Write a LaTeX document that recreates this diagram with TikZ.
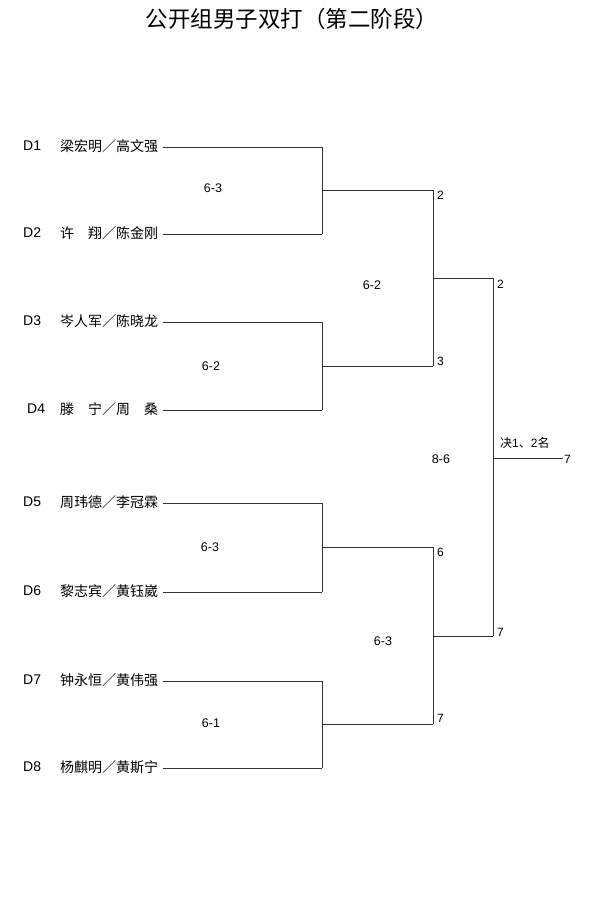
\documentclass[tikz,border=0pt]{standalone}
\usepackage{fontspec}
\setmainfont{Liberation Sans}
\newfontfamily\cjk{Noto Sans CJK SC}
\begin{document}
\begin{tikzpicture}[x=1pt,y=-1pt,
  lbl/.style={anchor=base west,inner sep=0pt,font=\fontsize{14}{14}\selectfont},
  nm/.style={anchor=base west,inner sep=0pt,font=\cjk\fontsize{14}{14}\selectfont},
  num/.style={anchor=west,inner sep=0pt,font=\fontsize{12}{12}\selectfont},
  sc/.style={inner sep=0pt,font=\fontsize{12.5}{12.5}\selectfont},
  ln/.style={line width=0.8pt,black!80}]
\useasboundingbox (0,0) rectangle (596,900);
\node[inner sep=0pt,font=\cjk\fontsize{22.5}{22.5}\selectfont] (title) at (292,19) {公开组男子双打（第二阶段）};
% entries
\foreach \i/\x/\y/\n in {1/23/147/{梁宏明／高文强},2/23/234/{许　翔／陈金刚},3/23/322/{岑人军／陈晓龙},4/27/410/{滕　宁／周　桑},5/23/503/{周玮德／李冠霖},6/23/592/{黎志宾／黄钰崴},7/23/681/{钟永恒／黄伟强},8/23/768/{杨麒明／黄斯宁}}{
  \node[lbl] (d\i) at (\x,\y+3) {D\i};
  \node[nm] (n\i) at (60,\y+4) {\n};
  \coordinate (s\i) at (163,\y);
  \coordinate (e\i) at (322,\y);
}
\coordinate (a1) at (322,190);
\coordinate (a2) at (322,366);
\coordinate (a3) at (322,547);
\coordinate (a4) at (322,724);
\coordinate (b1) at (433,190);
\coordinate (b2) at (433,366);
\coordinate (b3) at (433,547);
\coordinate (b4) at (433,724);
\coordinate (c1) at (433,278);
\coordinate (c2) at (433,636);
\coordinate (f1) at (493,278);
\coordinate (f2) at (493,636);
\coordinate (g) at (493,458);
\coordinate (h) at (563,458);
\foreach \i in {1,...,8}{\draw[ln] (s\i) -- (e\i);}
\draw[ln] (e1) -- (e2);
\draw[ln] (e3) -- (e4);
\draw[ln] (e5) -- (e6);
\draw[ln] (e7) -- (e8);
\draw[ln] (a1) -- (b1);
\draw[ln] (a2) -- (b2);
\draw[ln] (a3) -- (b3);
\draw[ln] (a4) -- (b4);
\draw[ln] (b1) -- (b2);
\draw[ln] (b3) -- (b4);
\draw[ln] (c1) -- (f1);
\draw[ln] (c2) -- (f2);
\draw[ln] (f1) -- (f2);
\draw[ln] (g) -- (h);
% numbers
\node[num] (r1) at (437,195) {2};
\node[num] (r2) at (437,361) {3};
\node[num] (r3) at (437,552) {6};
\node[num] (r4) at (437,718) {7};
\node[num] (q1) at (497,284) {2};
\node[num] (q2) at (497,632) {7};
\node[num] (w) at (564,459) {7};
\node[inner sep=0pt,anchor=west,font=\fontsize{12}{12}\selectfont] (fin) at (500,443) {{\cjk 决}1{\cjk 、}2{\cjk 名}};
% scores
\node[sc] (k1) at (213,188) {6-3};
\node[sc] (k2) at (211,366) {6-2};
\node[sc] (k3) at (210,547) {6-3};
\node[sc] (k4) at (211,723) {6-1};
\node[sc] (k5) at (372,285) {6-2};
\node[sc] (k6) at (383,641) {6-3};
\node[sc] (k7) at (441,459) {8-6};
\end{tikzpicture}
\end{document}
